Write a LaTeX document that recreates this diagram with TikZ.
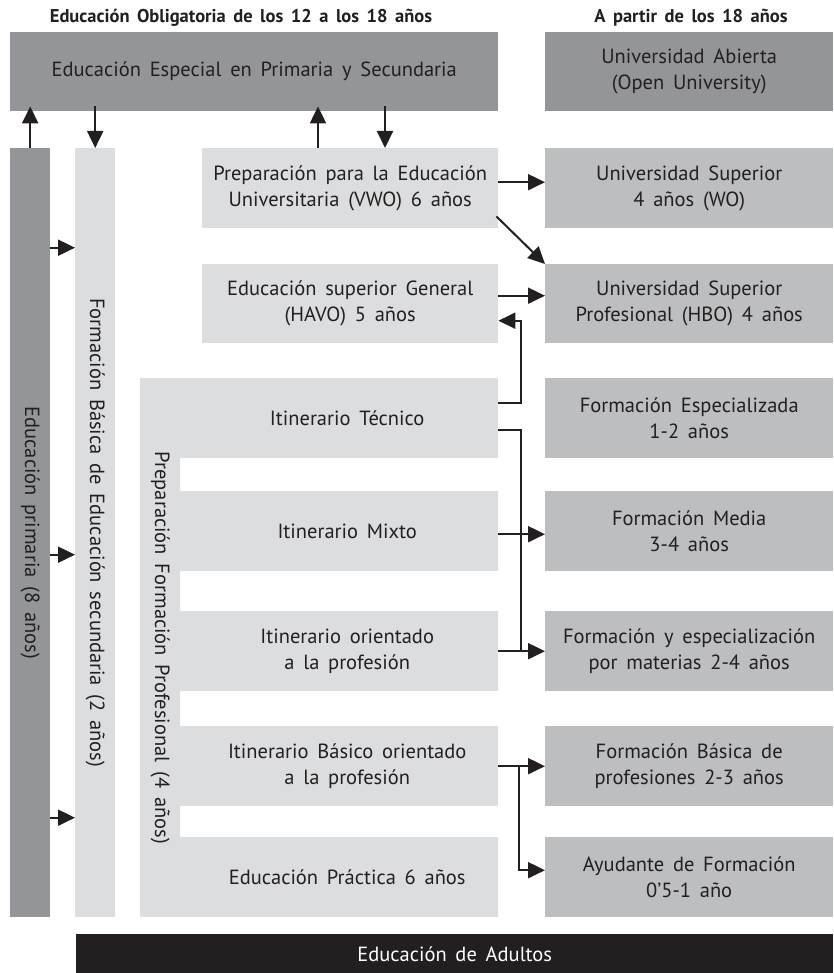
\documentclass[tikz,border=0pt]{standalone}
\usepackage{fontspec}
\setmainfont{PT Sans}[WordSpace=1.6]
\usetikzlibrary{arrows.meta}
\definecolor{ink}{HTML}{231F20}
\definecolor{cdark}{HTML}{939598}
\definecolor{cmid}{HTML}{BCBEC0}
\definecolor{clight}{HTML}{DCDDDF}
\newcommand{\boxfont}{\fontsize{20.5}{26}\selectfont}
\tikzset{
  box/.style={draw=none, inner sep=0pt, align=center, font=\boxfont, text=ink, anchor=north west},
  dark/.style={box, fill=cdark},
  mid/.style={box, fill=cmid},
  light/.style={box, fill=clight},
  vtext/.style={rotate=-90, font=\boxfont, text=ink, inner sep=0pt},
  ttl/.style={font=\bfseries\fontsize{18.5}{22}\selectfont, text=ink, inner sep=0pt},
  arr/.style={draw=ink, line width=2pt, -{Triangle[length=17pt,width=16pt]}},
  bus/.style={draw=ink, line width=2pt},
}
\begin{document}
\begin{tikzpicture}[x=1pt,y=-1pt]
\useasboundingbox (0,0) rectangle (833,973);
% titles
\node[ttl] (t1) at (241,18) {Educación Obligatoria de los 12 a los 18 años};
\node[ttl] (t2) at (691,18) {A partir de los 18 años};
% top row
\node[dark, minimum width=488pt, minimum height=79pt] (esp) at (10,32) {Educación Especial en Primaria y Secundaria};
\node[dark, minimum width=288pt, minimum height=79pt] (abi) at (545,32) {Universidad Abierta\\(Open University)};
% vertical bars
\node[dark, minimum width=40pt, minimum height=769pt] (prim) at (10,148) {};
\node[vtext] (primt) at (prim.center) {Educación primaria (8 años)};
\node[light, minimum width=40pt, minimum height=769pt] (fbs) at (75,148) {};
\node[vtext] (fbst) at (fbs.center) {Formación Básica de Educación secundaria (2 años)};
% middle column
\node[light, minimum width=296pt, minimum height=80pt] (vwo) at (202,148) {Preparación para la Educación\\Universitaria (VWO) 6 años};
\node[light, minimum width=296pt, minimum height=79pt] (havo) at (202,264) {Educación superior General\\(HAVO) 5 años};
\node[light, minimum width=40pt, minimum height=539pt] (fp) at (140,378) {};
\node[vtext] (fpt) at (fp.center) {Preparación Formación Profesional (4 años)};
\node[light, minimum width=320pt, minimum height=80pt, label={[font=\boxfont,text=ink,align=center,xshift=9pt]center:Itinerario Técnico}] (tec) at (178,378) {};
\node[light, minimum width=320pt, minimum height=80pt, label={[font=\boxfont,text=ink,align=center,xshift=9pt]center:Itinerario Mixto}] (mix) at (178,491) {};
\node[light, minimum width=320pt, minimum height=80pt, label={[font=\boxfont,text=ink,align=center,xshift=9pt]center:Itinerario orientado\\a la profesión}] (ori) at (178,611) {};
\node[light, minimum width=320pt, minimum height=80pt, label={[font=\boxfont,text=ink,align=center,xshift=9pt]center:Itinerario Básico orientado\\a la profesión}] (bas) at (178,726) {};
\node[light, minimum width=320pt, minimum height=80pt, label={[font=\boxfont,text=ink,align=center,xshift=9pt]center:Educación Práctica 6 años}] (pra) at (178,837) {};
% right column
\node[mid, minimum width=288pt, minimum height=80pt] (wo) at (545,148) {Universidad Superior\\4 años (WO)};
\node[mid, minimum width=288pt, minimum height=79pt] (hbo) at (545,264) {Universidad Superior\\Profesional (HBO) 4 años};
\node[mid, minimum width=288pt, minimum height=80pt] (fesp) at (545,378) {Formación Especializada\\1-2 años};
\node[mid, minimum width=288pt, minimum height=80pt] (media) at (545,491) {Formación Media\\3-4 años};
\node[mid, minimum width=288pt, minimum height=80pt] (fye) at (545,611) {Formación y especialización\\por materias 2-4 años};
\node[mid, minimum width=288pt, minimum height=80pt] (fbp) at (545,726) {Formación Básica de\\profesiones 2-3 años};
\node[mid, minimum width=288pt, minimum height=80pt] (ayu) at (545,837) {Ayudante de Formación\\0’5-1 año};
% bottom
\node[box, fill=ink, text=white, minimum width=757pt, minimum height=40pt] (adu) at (76,934) {Educación de Adultos};
% connectors
\draw[arr] (prim.north) -- ([yshift=5pt]prim.north |- esp.south);
\draw[arr] ([yshift=5pt]fbs.north |- esp.south) -- (fbs.north);
\draw[arr] ([xshift=116pt]vwo.north west) -- ([xshift=116pt,yshift=5pt]vwo.north west |- esp.south);
\draw[arr] ([xshift=183pt,yshift=5pt]vwo.north west |- esp.south) -- ([xshift=183pt]vwo.north west);
\draw[arr] ([yshift=285pt]prim.east) -- ([yshift=285pt]fbs.west);
\draw[arr] ([yshift=-22pt]prim.east) -- ([yshift=-22pt]fbs.west);
\draw[arr] ([yshift=-285pt]prim.east) -- ([yshift=-285pt]fbs.west);
\draw[arr] ([yshift=6pt]vwo.east) -- ([yshift=6pt]wo.west);
\draw[arr] ([xshift=-2pt,yshift=12pt]vwo.south east) -- (hbo.north west);
\draw[arr] ([yshift=8pt]havo.east) -- ([yshift=8pt]hbo.west);
\draw[arr] ([yshift=15pt]tec.east) -- ++(23,0) |- ([yshift=-17pt]havo.east);
\draw[bus] ([yshift=-12pt]tec.east) -- ++(23,0) coordinate (b1) -- (b1 |- ori.east);
\draw[arr] ([yshift=-3pt]mix.east) -- ([yshift=-3pt]media.west);
\draw[arr] (ori.east) -- (fye.west);
\draw[arr] (bas.east) -- (fbp.west);
\draw[arr] (bas.east) -- ++(21,0) |- ([yshift=7pt]ayu.west);
\end{tikzpicture}
\end{document}
